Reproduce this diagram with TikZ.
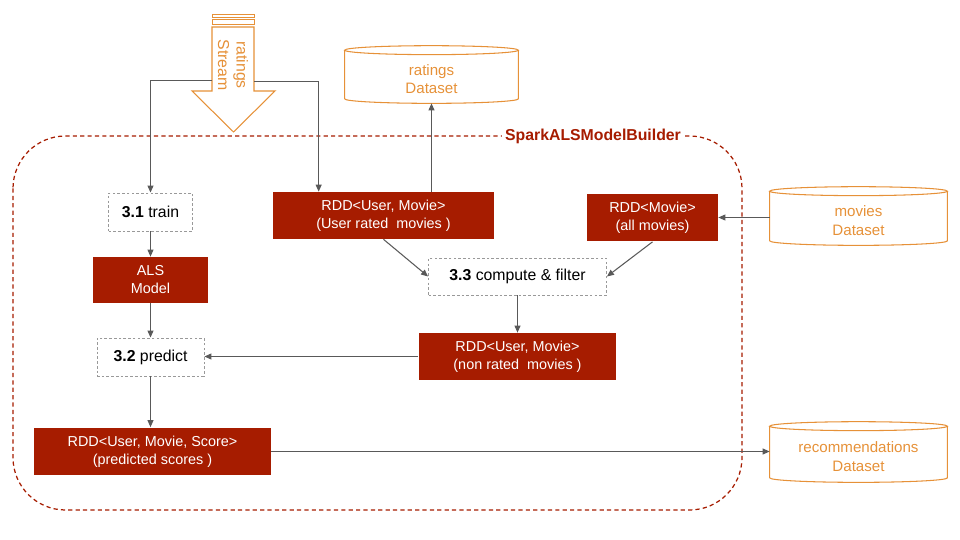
\documentclass[tikz,border=0pt]{standalone}
\usepackage{fontspec}
\setmainfont{Liberation Sans}
\usetikzlibrary{calc, positioning, arrows.meta}
\definecolor{sparkred}{HTML}{A61C00}
\definecolor{dsorange}{HTML}{E69138}
\definecolor{linegray}{HTML}{595959}
\definecolor{boxgray}{HTML}{999999}

\tikzset{
  rdd/.style={fill=sparkred, text=white, align=center, inner sep=0pt,
    font=\fontsize{8.2}{10.2}\selectfont},
  stepbox/.style={draw=boxgray, line width=0.5pt, dash pattern=on 1.5pt off 1.2pt,
    fill=white, inner sep=0pt, font=\fontsize{9}{11}\selectfont},
  dataset/.style={text=dsorange, align=center, inner sep=0pt,
    font=\fontsize{8.6}{10.6}\selectfont},
  flow/.style={draw=linegray, line width=0.6pt, -{Triangle[length=4pt,width=3.4pt]}},
}

\begin{document}
\begin{tikzpicture}[x=0.02cm, y=-0.02cm]
    \useasboundingbox (0,0) rectangle (960,540);

    % builder frame
    \draw[sparkred, line width=0.7pt, dash pattern=on 2.4pt off 1.8pt, rounded corners=1.05cm]
        (13,136) rectangle (742,510);
    \node[fill=white, text=sparkred, inner xsep=2pt, inner ysep=1pt,
        font=\bfseries\fontsize{9}{11}\selectfont] (builder) at (593,136) {SparkALSModelBuilder};

    % incoming stream
    \draw[dsorange, line width=0.5pt] (212,14) rectangle (254,17);
    \draw[dsorange, line width=0.5pt] (212,19.5) rectangle (254,24);
    \draw[dsorange, line width=0.6pt, fill=white] (212,27) -- (212,91) -- (192,91) -- (233.5,132)
        -- (275,91) -- (254,91) -- (254,27) -- cycle;
    \node[rotate=-90, text=dsorange, align=center, font=\fontsize{9}{10.5}\selectfont]
        (stream) at (233,65) {ratings\\Stream};
    \coordinate (streamL) at (212,80.5);
    \coordinate (streamR) at (254,81.5);

    % datasets (body of each drum; the lid is drawn below)
    \node[dataset, minimum width=3.46cm, minimum height=0.96cm] (ratingsDS) at (431.5,79) {ratings\\Dataset};
    \node[dataset, minimum width=3.54cm, minimum height=0.98cm] (moviesDS) at (858.5,220.5) {movies\\Dataset};
    \node[dataset, minimum width=3.54cm, minimum height=1.02cm] (recoDS) at (858.5,456.5) {recommendations\\Dataset};
    \foreach \ds in {ratingsDS, moviesDS, recoDS} {
        \draw[dsorange, line width=0.6pt] let \p1=(\ds.north west), \p2=(\ds.north east),
            \n1={(\x2-\x1)/2} in
            ([yshift=2.55pt]\ds.north west) -- ([yshift=2.55pt]\ds.south west)
            arc[start angle=180, end angle=360, x radius=\n1, y radius=2.55pt]
            -- ([yshift=2.55pt]\ds.north east)
            ([yshift=2.55pt]\ds.north) ellipse [x radius=\n1, y radius=2.55pt];
    }

    % steps
    \node[stepbox, minimum width=1.68cm, minimum height=0.76cm] (train) at (150.5,212) {\textbf{3.1} train};
    \node[stepbox, minimum width=2.14cm, minimum height=0.76cm] (predict) at (150.5,357) {\textbf{3.2} predict};
    \node[stepbox, minimum width=3.56cm, minimum height=0.74cm] (compute) at (517.5,276.5) {\textbf{3.3} compute \& filter};

    % data
    \node[rdd, minimum width=2.32cm, minimum height=0.92cm] (als) at (150.5,280) {ALS\\Model};
    \node[rdd, minimum width=4.42cm, minimum height=0.94cm] (rated) at (383.5,215.5) {RDD<User, Movie>\\(User rated\ \ movies )};
    \node[rdd, minimum width=2.62cm, minimum height=0.96cm] (allmovies) at (652.5,217.5) {RDD<Movie>\\(all movies)};
    \node[rdd, minimum width=3.96cm, minimum height=0.94cm] (nonrated) at (517.5,356.5) {RDD<User, Movie>\\(non rated\ \ movies )};
    \node[rdd, minimum width=4.74cm, minimum height=0.96cm] (scores) at (152.5,451.5) {RDD<User, Movie, Score>\\(predicted scores )};

    \draw[flow] (streamL) -| (train.north);
    \draw[flow] (streamR) -| ([xshift=0.92cm]rated.north west);
    \draw[flow] (ratingsDS.south |- rated.north) -- (ratingsDS.south);
    \draw[flow] (train) -- (als);
    \draw[flow] (als) -- (predict);
    \draw[flow] (rated.south) -- (compute.west);
    \draw[flow] (allmovies.south) -- (compute.east);
    \draw[flow] (moviesDS.west |- allmovies.east) -- (allmovies.east);
    \draw[flow] (compute) -- (nonrated);
    \draw[flow] (nonrated.west) -- (nonrated.west -| predict.east);
    \draw[flow] (predict.south) -- (predict.south |- scores.north);
    \draw[flow] (scores.east) -- (scores.east -| recoDS.west);
\end{tikzpicture}
\end{document}
